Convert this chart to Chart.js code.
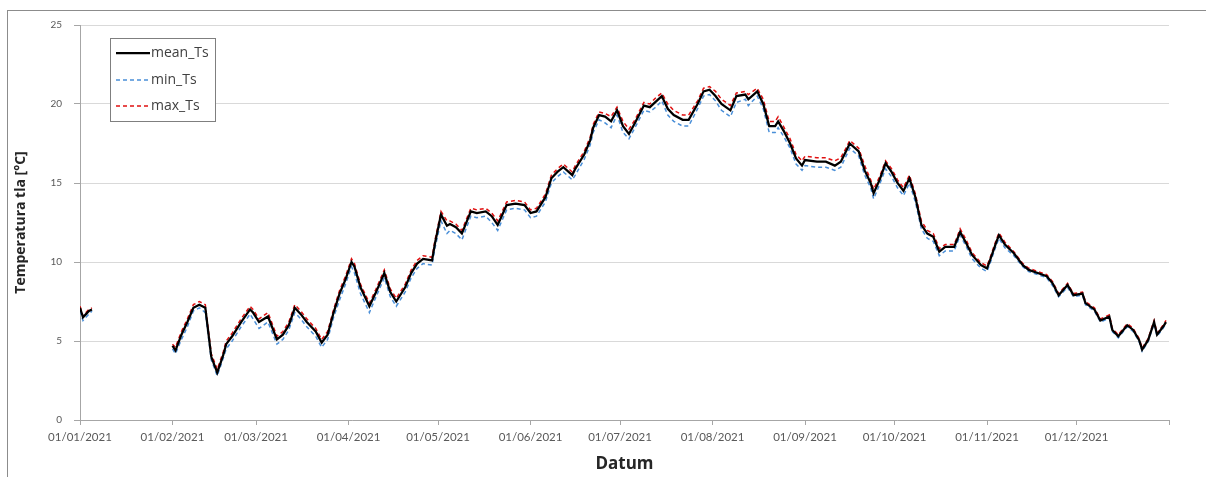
<!DOCTYPE html>
<html>
<head>
<meta charset="utf-8">
<script src="https://cdn.jsdelivr.net/npm/chart.js@4.4.1/dist/chart.umd.min.js"></script>
<style>
  html, body { margin: 0; padding: 0; background: #fff; overflow: hidden; }
  canvas { display: block; }
</style>
</head>
<body>
<canvas id="c" width="1206" height="477"></canvas>
<script>
// Day of year (0 = 01/01/2021); the null entry at day 18 marks the missing January data
const days = [0,1,2,3,4,18,
  31,32,34,36,38,40,42,44,46,48,49,51,54,57,58,60,63,66,68,70,72,74,76,79,81,83,85,87,89,
  91,92,94,96,97,99,102,104,106,109,111,113,115,118,119,121,123,124,126,128,131,133,136,138,140,
  143,146,149,151,153,156,158,160,162,165,166,169,171,172,174,176,178,180,182,184,186,189,191,193,195,
  197,199,202,204,207,209,211,213,215,218,220,223,224,227,229,231,233,234,236,238,240,242,243,247,
  250,253,255,257,258,261,263,265,266,268,270,272,274,276,278,280,282,284,286,288,290,293,295,297,
  299,302,304,305,307,308,310,313,316,318,321,324,326,328,331,333,336,337,340,342,345,346,348,351,
  353,355,356,358,360,361,363,364];

const meanTs = [7.1,6.5,6.7,6.9,7.0,null,
  4.7,4.4,5.4,6.2,7.1,7.3,7.1,4.0,3.0,4.1,4.8,5.3,6.2,7.0,6.8,6.2,6.55,5.1,5.4,6.0,7.1,6.7,6.2,5.6,4.9,5.4,6.8,8.0,8.9,
  10.0,9.7,8.4,7.6,7.2,8.0,9.3,8.1,7.5,8.4,9.3,9.9,10.2,10.1,11.2,13.0,12.3,12.4,12.2,11.8,13.2,13.1,13.2,12.9,12.35,
  13.6,13.7,13.6,13.1,13.2,14.1,15.3,15.7,16.0,15.5,15.9,16.8,17.7,18.5,19.3,19.2,18.9,19.6,18.6,18.1,18.8,19.9,19.8,20.15,20.5,
  19.7,19.3,19.0,19.0,20.0,20.8,20.9,20.5,20.0,19.6,20.5,20.6,20.3,20.8,20.0,18.6,18.6,18.9,18.25,17.5,16.55,16.1,16.45,16.35,
  16.35,16.1,16.35,17.1,17.5,17.0,15.8,15.0,14.35,15.2,16.25,15.7,15.0,14.5,15.3,14.1,12.35,11.8,11.6,10.65,10.95,10.95,11.9,11.2,
  10.45,9.8,9.6,10.1,11.2,11.7,11.1,10.55,9.8,9.5,9.3,9.1,8.65,7.9,8.55,7.9,8.0,7.4,7.0,6.3,6.55,5.7,5.3,6.0,
  5.7,5.05,4.45,5.05,6.2,5.4,5.9,6.2];

const minTs = [6.9,6.3,6.5,6.7,6.9,null,
  4.5,4.2,5.1,5.9,6.9,7.1,6.8,3.8,2.8,3.9,4.5,5.0,5.9,6.7,6.4,5.8,6.2,4.8,5.1,5.7,6.8,6.4,5.9,5.3,4.6,5.1,6.5,7.6,8.6,
  9.7,9.3,8.0,7.2,6.8,7.7,9.0,7.8,7.2,8.1,9.0,9.6,9.9,9.8,10.9,12.6,11.8,12.0,11.8,11.4,12.9,12.8,12.9,12.5,12.0,
  13.3,13.4,13.3,12.8,12.9,13.8,15.0,15.4,15.7,15.2,15.5,16.5,17.4,18.2,19.0,18.8,18.5,19.3,18.2,17.8,18.5,19.6,19.5,19.8,20.2,
  19.3,18.9,18.6,18.6,19.7,20.5,20.6,20.2,19.6,19.2,20.1,20.3,19.9,20.5,19.7,18.2,18.2,18.5,17.9,17.2,16.2,15.8,16.1,16.0,
  16.0,15.8,16.0,16.8,17.2,16.7,15.5,14.7,14.0,14.9,15.9,15.4,14.7,14.2,15.0,13.8,12.1,11.5,11.3,10.4,10.7,10.7,11.7,11.0,
  10.2,9.6,9.4,9.9,11.0,11.5,10.9,10.4,9.7,9.4,9.2,9.0,8.5,7.8,8.4,7.8,7.9,7.3,6.9,6.2,6.45,5.6,5.2,5.9,
  5.6,4.95,4.35,4.95,6.1,5.3,5.8,6.1];

const maxTs = [7.2,6.6,6.8,7.0,7.1,null,
  4.8,4.6,5.6,6.4,7.3,7.5,7.3,4.2,3.2,4.3,5.0,5.5,6.4,7.2,7.0,6.4,6.8,5.3,5.6,6.2,7.3,6.9,6.4,5.8,5.1,5.6,7.0,8.2,9.1,
  10.2,9.9,8.6,7.8,7.4,8.2,9.5,8.3,7.7,8.6,9.5,10.1,10.4,10.3,11.4,13.2,12.6,12.6,12.4,12.0,13.4,13.3,13.4,13.1,12.6,
  13.8,13.9,13.8,13.3,13.4,14.3,15.5,15.9,16.2,15.7,16.1,17.0,17.9,18.7,19.5,19.4,19.2,19.8,18.9,18.4,19.0,20.1,20.0,20.4,20.7,
  20.0,19.6,19.3,19.3,20.2,21.0,21.1,20.8,20.3,19.9,20.7,20.8,20.6,21.0,20.3,18.9,18.9,19.2,18.5,17.8,16.8,16.4,16.7,16.6,
  16.6,16.4,16.6,17.3,17.7,17.2,16.1,15.2,14.6,15.4,16.4,15.9,15.2,14.7,15.5,14.3,12.6,12.0,11.8,10.85,11.1,11.1,12.1,11.4,
  10.6,9.95,9.75,10.25,11.35,11.85,11.25,10.65,9.9,9.6,9.4,9.2,8.75,8.0,8.65,8.0,8.1,7.5,7.1,6.4,6.65,5.8,5.4,6.1,
  5.8,5.15,4.55,5.15,6.3,5.5,6.0,6.3];

// Month starts on the day-of-year axis and their labels
const monthTicks = [0,31,59,90,120,151,181,212,243,273,304,334,365];
const monthLabels = ['01/01/2021','01/02/2021','01/03/2021','01/04/2021','01/05/2021','01/06/2021',
  '01/07/2021','01/08/2021','01/09/2021','01/10/2021','01/11/2021','01/12/2021',''];
const yTicks = [0,5,10,15,20,25];

function points(vals) {
  return days.map((d, i) => ({ x: d, y: vals[i] }));
}

// White page with the outer frame
const framePlugin = {
  id: 'frame',
  beforeDraw(chart) {
    const c = chart.ctx;
    c.save();
    c.fillStyle = '#ffffff';
    c.fillRect(0, 0, chart.width, chart.height);
    c.strokeStyle = '#8c8c8c';
    c.lineWidth = 1;
    c.strokeRect(7.5, 10.5, chart.width + 10, chart.height + 10);
    c.restore();
  }
};

// Boxed legend in the upper left of the plot
const boxLegend = {
  id: 'boxLegend',
  afterDraw(chart) {
    const c = chart.ctx;
    const x = 110.5, y = 38.5, w = 105, h = 83;
    c.save();
    c.fillStyle = '#ffffff';
    c.fillRect(x, y, w, h);
    c.strokeStyle = '#7f7f7f';
    c.lineWidth = 1;
    c.strokeRect(x, y, w, h);
    const rows = [53, 80, 106];
    chart.data.datasets.forEach((ds, i) => {
      const ry = rows[i];
      c.beginPath();
      c.setLineDash(ds.borderDash || []);
      c.strokeStyle = ds.borderColor;
      c.lineWidth = ds.borderWidth;
      c.moveTo(116, ry);
      c.lineTo(150, ry);
      c.stroke();
      c.setLineDash([]);
      c.fillStyle = '#404040';
      c.font = '14px "Open Sans"';
      c.textBaseline = 'middle';
      c.textAlign = 'left';
      c.fillText(ds.label, 151, ry);
    });
    c.restore();
  }
};

new Chart(document.getElementById('c'), {
  type: 'line',
  data: {
    datasets: [
      { label: 'mean_Ts', data: points(meanTs), borderColor: '#000000', borderWidth: 2.25,
        pointRadius: 0, tension: 0, spanGaps: false },
      { label: 'min_Ts', data: points(minTs), borderColor: '#4a8fd8', borderWidth: 1.5,
        borderDash: [4, 3], pointRadius: 0, tension: 0, spanGaps: false },
      { label: 'max_Ts', data: points(maxTs), borderColor: '#e01010', borderWidth: 1.5,
        borderDash: [4, 3], pointRadius: 0, tension: 0, spanGaps: false }
    ]
  },
  options: {
    responsive: false,
    animation: false,
    devicePixelRatio: 1,
    layout: { padding: { left: 0, top: 25, right: 37, bottom: 0 } },
    plugins: { legend: { display: false }, tooltip: { enabled: false } },
    scales: {
      x: {
        type: 'linear',
        min: 0,
        max: 365,
        afterBuildTicks(scale) { scale.ticks = monthTicks.map(v => ({ value: v })); },
        afterFit(scale) { scale.height = 57; },
        ticks: {
          autoSkip: false, maxRotation: 0, minRotation: 0, padding: 5,
          color: '#595959', font: { family: 'Lato', size: 11.5 },
          callback(v) { const i = monthTicks.indexOf(v); return i >= 0 ? monthLabels[i] : ''; }
        },
        grid: { drawOnChartArea: false, drawTicks: true, tickLength: 5, tickColor: '#a6a6a6' },
        border: { color: '#a6a6a6', width: 1 },
        title: {
          display: true, text: 'Datum', color: '#262626',
          font: { family: 'Open Sans', size: 17, weight: 'bold' },
          padding: { top: 0, bottom: 3 }
        }
      },
      y: {
        min: 0,
        max: 25,
        afterBuildTicks(scale) { scale.ticks = yTicks.map(v => ({ value: v })); },
        afterFit(scale) { scale.width = 80; },
        ticks: { padding: 12, color: '#595959', font: { family: 'Lato', size: 10 } },
        grid: { color: '#d9d9d9', tickColor: '#a6a6a6', tickLength: 6 },
        border: { color: '#a6a6a6', width: 1 },
        title: {
          display: true, text: 'Temperatura tla [°C]', color: '#262626',
          font: { family: 'Open Sans', size: 14, weight: 'bold' },
          padding: { top: 13, bottom: 0 }
        }
      }
    }
  },
  plugins: [framePlugin, boxLegend]
});
</script>
</body>
</html>
